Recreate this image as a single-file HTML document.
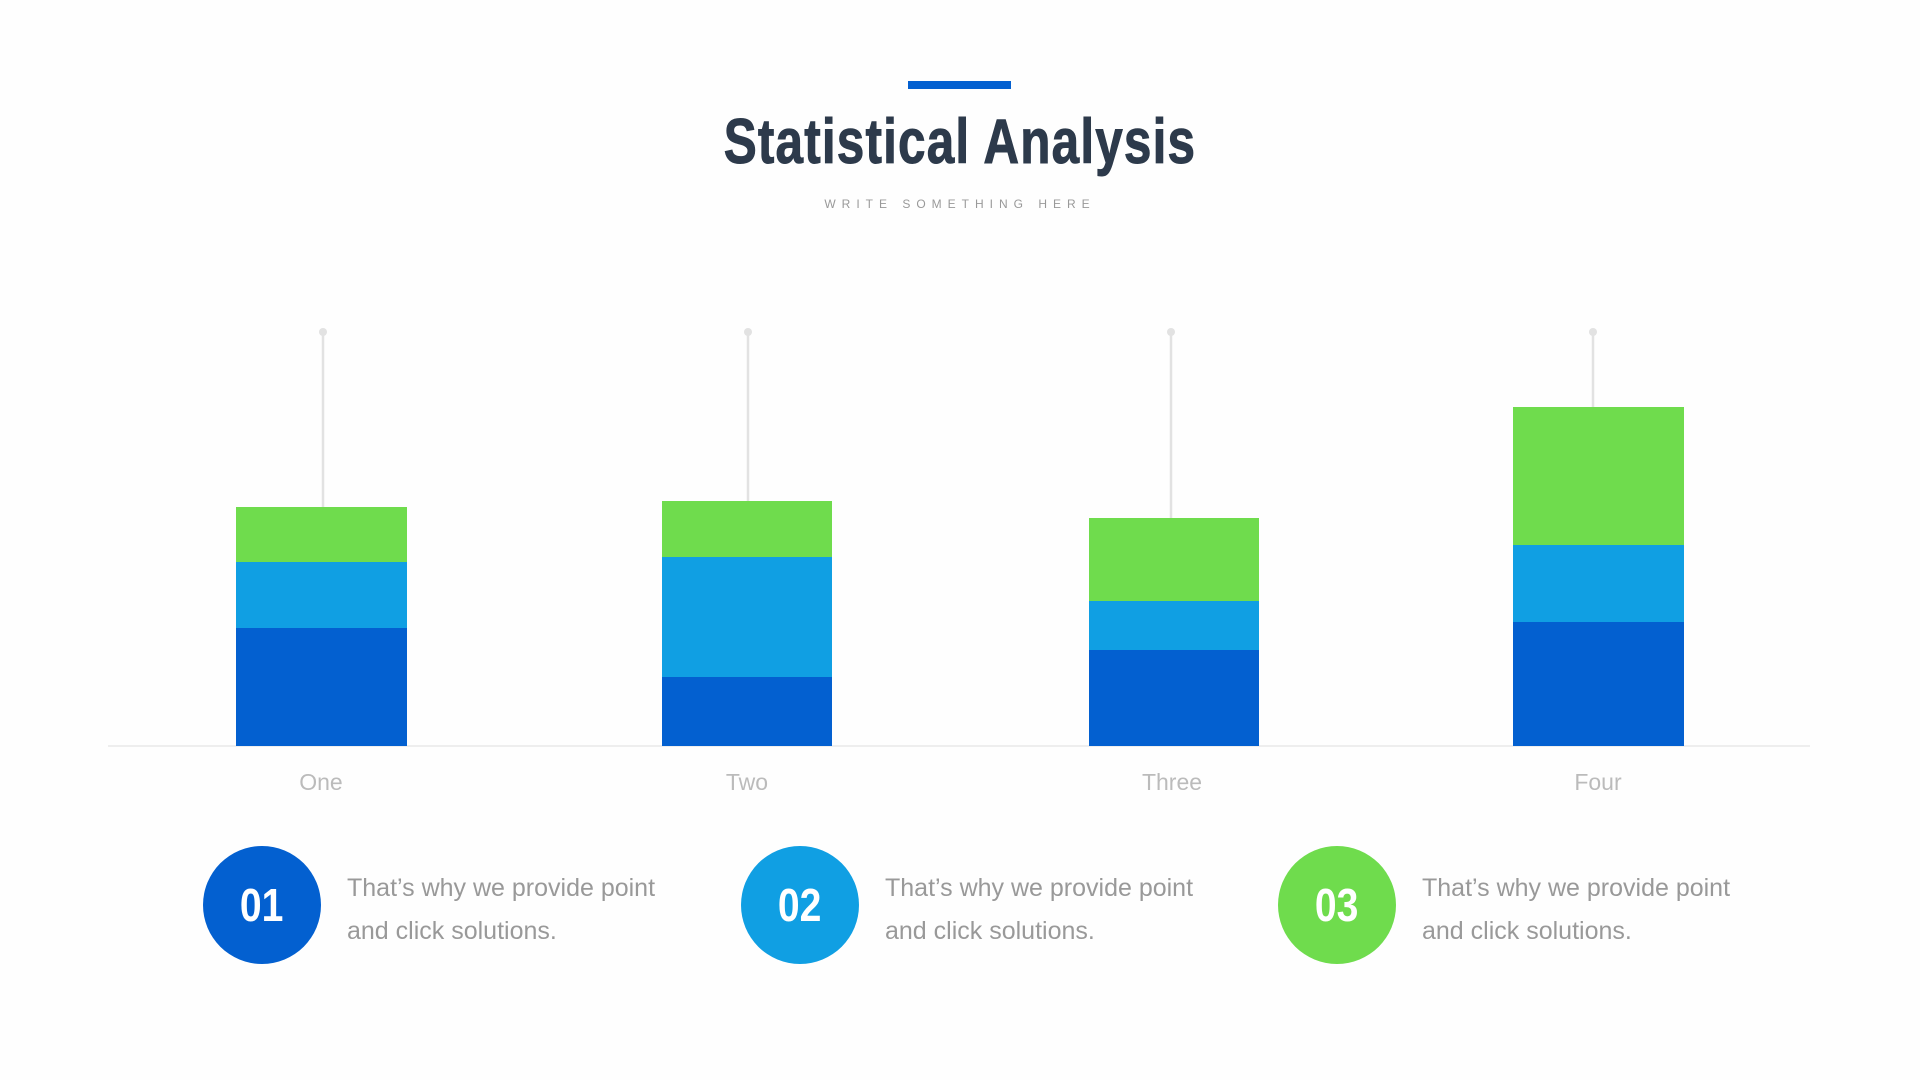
<!DOCTYPE html>
<html><head><meta charset="utf-8"><style>
body{margin:0;width:1920px;height:1080px;background:#fefefe;position:relative;overflow:hidden;font-family:"Liberation Sans",sans-serif}
.a{position:absolute}
.title{left:0;width:1920px;top:102px;text-align:center;font-size:63px;font-weight:bold;color:#2d3a4b;line-height:80px}
.title span{display:inline-block;transform:scaleX(0.785);letter-spacing:1.5px;-webkit-text-stroke:1px #2d3a4b}
.sub{left:0;width:1920px;top:196px;text-align:center;font-size:12px;letter-spacing:6px;color:#999;line-height:16px}
.lbl{width:200px;text-align:center;font-size:23px;color:#bbb;top:768px;line-height:28px}
.circ{width:118px;height:118px;border-radius:50%;color:#fff;font-weight:bold;font-size:46px;text-align:center;line-height:118px;top:846px}
.circ span{display:inline-block;transform:scaleX(0.85)}
.txt{font-size:25px;color:#999;line-height:43px;top:867px;width:420px}
</style></head><body>
<div class="a" style="left:908px;top:81px;width:103px;height:8px;background:#0360d0"></div>
<div class="a title"><span>Statistical Analysis</span></div>
<div class="a sub">WRITE SOMETHING HERE</div>
<svg class="a" style="left:0;top:0" width="1920" height="1080">
<line x1="108" y1="746" x2="1810" y2="746" stroke="#eeeeee" stroke-width="2"/>
<g stroke="#e2e2e2" stroke-width="2.5">
<line x1="323" y1="332" x2="323" y2="507"/><line x1="748" y1="332" x2="748" y2="501"/>
<line x1="1171" y1="332" x2="1171" y2="518"/><line x1="1593" y1="332" x2="1593" y2="407"/></g>
<g fill="#e2e2e2"><circle cx="323" cy="332" r="4"/><circle cx="748" cy="332" r="4"/><circle cx="1171" cy="332" r="4"/><circle cx="1593" cy="332" r="4"/></g>
<rect x="236" y="507" width="171" height="55" fill="#6fdc4d"/>
<rect x="236" y="562" width="171" height="66" fill="#109fe3"/>
<rect x="236" y="628" width="171" height="118" fill="#0360d0"/>
<rect x="662" y="501" width="170" height="56" fill="#6fdc4d"/>
<rect x="662" y="557" width="170" height="120" fill="#109fe3"/>
<rect x="662" y="677" width="170" height="69" fill="#0360d0"/>
<rect x="1089" y="518" width="170" height="83" fill="#6fdc4d"/>
<rect x="1089" y="601" width="170" height="49" fill="#109fe3"/>
<rect x="1089" y="650" width="170" height="96" fill="#0360d0"/>
<rect x="1513" y="407" width="171" height="138" fill="#6fdc4d"/>
<rect x="1513" y="545" width="171" height="77" fill="#109fe3"/>
<rect x="1513" y="622" width="171" height="124" fill="#0360d0"/>
</svg>
<div class="a lbl" style="left:221px">One</div>
<div class="a lbl" style="left:647px">Two</div>
<div class="a lbl" style="left:1072px">Three</div>
<div class="a lbl" style="left:1498px">Four</div>
<div class="a circ" style="left:203px;background:#0360d0"><span>01</span></div>
<div class="a circ" style="left:741px;background:#109fe3"><span>02</span></div>
<div class="a circ" style="left:1278px;background:#6fdc4d"><span>03</span></div>
<div class="a txt" style="left:347px">That’s why we provide point<br>and click solutions.</div>
<div class="a txt" style="left:885px">That’s why we provide point<br>and click solutions.</div>
<div class="a txt" style="left:1422px">That’s why we provide point<br>and click solutions.</div>
</body></html>
